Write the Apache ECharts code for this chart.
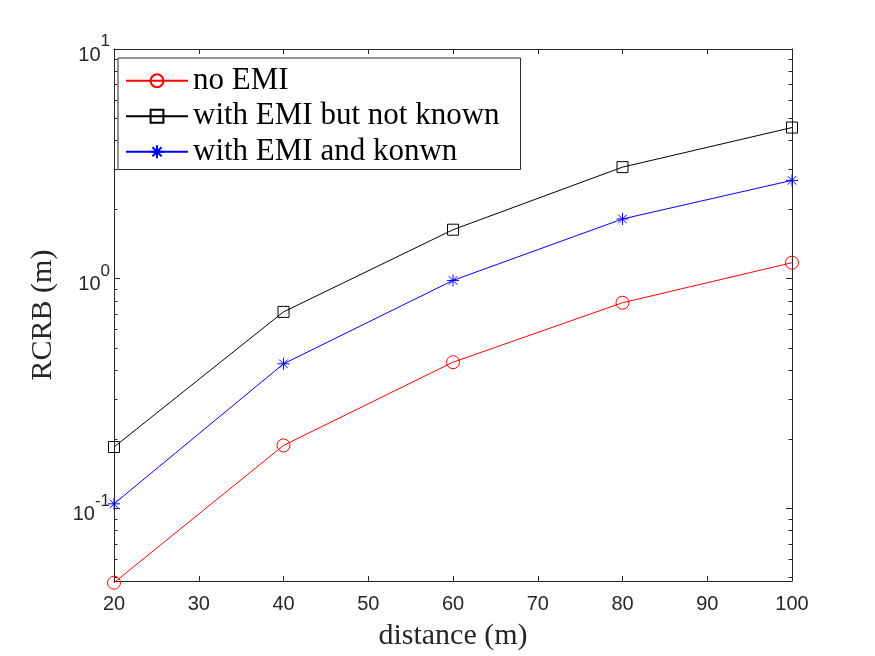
<!DOCTYPE html>
<html>
<head>
<meta charset="utf-8">
<script src="https://cdn.jsdelivr.net/npm/echarts@6/dist/echarts.min.js"></script>
<style>
  html, body { margin: 0; padding: 0; background: #fff; }
  #chart { width: 875px; height: 656px; }
</style>
</head>
<body>
<div id="chart"></div>
<script>
// ---- data ----
const distance = [20, 40, 60, 80, 100];
const noEmi = [0.0475, 0.188, 0.433, 0.786, 1.174];
const emiUnknown = [0.185, 0.717, 1.634, 3.06, 4.55];
const emiKnown = [0.1047, 0.426, 0.983, 1.82, 2.68];

const seriesNames = ['no EMI', 'with EMI but not known', 'with EMI and konwn'];
const yMajor = [0.1, 1, 10];
const yMin = 0.0483, yMax = 10;

// minor log ticks 2..9 in each decade
const yMinor = [];
[0.01, 0.1, 1].forEach(d => {
    for (let k = 2; k <= 9; k++) {
        const v = +(k * d).toFixed(4);
        if (v >= yMin && v <= yMax) yMinor.push(v);
    }
});

const axisColor = '#262626';
const sansFont = 'Liberation Sans';
const serifFont = 'Liberation Serif';

const asterisk = 'path://M0,5L10,5M5,0L5,10M1.46,1.46L8.54,8.54M1.46,8.54L8.54,1.46';

const chart = echarts.init(document.getElementById('chart'));

function yAxisDef(pos, major) {
    return {
        type: 'log', position: pos, min: yMin, max: yMax, logBase: 10,
        axisLine: { show: major, lineStyle: { color: axisColor, width: 1 } },
        axisTick: {
            show: true, inside: true, length: major ? 6 : 3.5,
            customValues: major ? yMajor : yMinor,
            lineStyle: { color: axisColor, width: 1 }
        },
        axisLabel: pos === 'left' && major ? {
            show: true, customValues: yMajor, margin: 4,
            fontFamily: sansFont, fontSize: 20, color: axisColor,
            formatter: v => '{b|10}{s|' + Math.round(Math.log10(v)) + '}',
            rich: {
                b: { fontFamily: sansFont, fontSize: 20, color: axisColor, lineHeight: 20, verticalAlign: 'bottom' },
                s: { fontFamily: sansFont, fontSize: 17, color: axisColor, lineHeight: 32, verticalAlign: 'top' }
            }
        } : { show: false },
        splitLine: { show: false },
        minorTick: { show: false },
        name: pos === 'left' && major ? 'RCRB (m)' : '',
        nameLocation: 'middle', nameGap: 56,
        nameTextStyle: { fontFamily: serifFont, fontSize: 30, color: axisColor }
    };
}

function xAxisDef(pos) {
    return {
        type: 'value', position: pos, min: 20, max: 100, interval: 10,
        axisLine: { show: true, onZero: false, lineStyle: { color: axisColor, width: 1 } },
        axisTick: { show: true, inside: true, length: 5, lineStyle: { color: axisColor, width: 1 } },
        axisLabel: pos === 'bottom' ? {
            show: true, margin: 13, fontFamily: sansFont, fontSize: 20, color: axisColor
        } : { show: false },
        splitLine: { show: false },
        name: pos === 'bottom' ? 'distance (m)' : '',
        nameLocation: 'middle', nameGap: 40,
        nameTextStyle: { fontFamily: serifFont, fontSize: 30, color: axisColor }
    };
}

function lineSeries(name, values, color, symbol, size) {
    return {
        name: name, type: 'line', xAxisIndex: 0, yAxisIndex: 0,
        data: distance.map((d, i) => [d, values[i]]),
        symbol: symbol, symbolSize: size, showSymbol: true, clip: false,
        lineStyle: { color: color, width: 1 },
        itemStyle: { color: 'rgba(0,0,0,0)', borderColor: color, borderWidth: 1 },
        emphasis: { disabled: true },
        animation: false
    };
}

const option = {
    backgroundColor: '#fff',
    animation: false,
    grid: { left: 114, right: 83, top: 49, bottom: 74, containLabel: false },
    legend: {
        orient: 'vertical', left: 118, top: 58,
        padding: [5, 21, 0, 7],
        itemWidth: 62, itemHeight: 16, itemGap: 0,
        borderColor: axisColor, borderWidth: 1, backgroundColor: '#fff',
        textStyle: { fontFamily: serifFont, fontSize: 31, lineHeight: 35.5, color: '#000' },
        data: seriesNames
    },
    xAxis: [xAxisDef('bottom'), xAxisDef('top')],
    yAxis: [yAxisDef('left', true), yAxisDef('left', false), yAxisDef('right', true), yAxisDef('right', false)],
    series: [
        lineSeries(seriesNames[0], noEmi, '#ff0000', 'circle', 13),
        lineSeries(seriesNames[1], emiUnknown, '#000000', 'rect', 11),
        lineSeries(seriesNames[2], emiKnown, '#0000ff', asterisk, 12)
    ]
};
chart.setOption(option);
</script>
</body>
</html>
